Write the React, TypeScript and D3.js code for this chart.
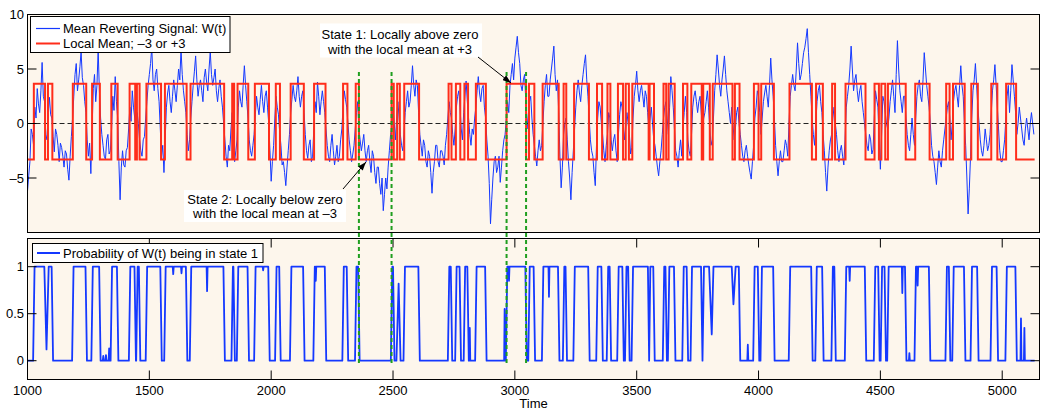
import React from "react";
import * as d3 from "d3";

// Sampled mean-reverting signal W(t), one value every 5 time units from t = 1000
const T_START = 1000;
const T_STEP = 5;
const T_END = 5133;
const X_MAX = 5153;

const signal: number[] = [
  -6.2, -4.8, -3.5, -0.5, -1.0, -2.0, 1.5, 0.5, 3.2, 1.8, 1.0, 3.0, 5.6, 2.5, 2.0, -1.0, -1.5, 1.0, 2.4, 0.8,
  0.5, -1.2, -2.6, -0.5, -1.0, -2.0, -3.5, -1.8, -2.2, -3.0, -4.0, -2.5, -2.8, -4.2, -5.2, -3.0, -1.2, 0.5, 2.5, 4.5,
  5.5, 3.0, 4.0, 5.2, 6.6, 4.2, 3.5, 2.0, 1.0, -1.5, -3.0, -1.8, -4.6, -0.5, 3.2, 4.5, 2.0, 3.5, 6.8, 3.0,
  0.5, -1.0, -2.0, -3.0, -3.3, -1.5, -1.0, -2.8, -2.5, -0.5, 2.5, 1.2, 4.3, 2.0, 0.5, -3.5, -7.0, -4.0, -2.5, -3.8,
  -4.0, -2.5, -2.2, -0.5, 1.5, 0.2, 3.0, 1.5, 0.5, -1.0, 1.0, 0.0, -1.5, -2.5, -3.0, -1.5, -1.2, 0.5, 2.0, 3.5,
  4.5, 5.5, 7.0, 4.0, 3.0, 4.5, 5.0, 3.2, 2.0, -0.5, -3.0, -2.0, -4.5, -1.5, 1.5, 2.8, 3.5, 2.0, 1.0, 2.5,
  4.0, 3.0, 2.0, 3.5, 5.0, 4.0, 6.8, 4.5, 3.0, 2.0, 1.0, -1.0, -2.5, -1.5, 0.5, 2.0, 3.5, 4.8, 6.2, 4.0,
  2.5, 3.5, 4.0, 3.0, 2.0, 4.2, 5.0, 3.8, 3.0, 5.0, 6.6, 4.5, 3.5, 4.2, 5.0, 3.0, 2.0, 3.2, 4.0, 2.5,
  1.5, 0.0, -1.5, -3.0, -4.0, -2.0, -2.5, -0.5, 1.0, -1.5, -3.5, -2.5, -1.5, 1.5, 3.0, 2.0, 1.5, 3.5, 5.3, 3.5,
  2.0, 0.5, -1.5, -2.5, -3.0, -2.0, -1.0, 0.8, 2.5, 1.5, 0.8, 2.2, 3.5, 2.0, 1.0, 2.5, 3.0, 1.5, 0.0, -2.5,
  -5.3, -3.5, -2.0, 0.5, 2.5, 1.5, 0.8, -0.8, -2.0, -3.8, -3.5, -4.5, -5.7, -4.0, -2.5, -1.0, 1.0, 2.2, 3.5, 2.5,
  2.0, 3.0, 4.3, 2.5, 1.5, 2.5, 3.0, 1.0, -1.0, -2.5, -3.2, -2.0, -1.5, -3.5, -3.0, -0.5, 2.0, 1.0, 3.8, 2.5,
  0.8, 2.0, 3.0, 2.0, 1.0, -0.5, -2.0, -3.0, -3.5, -2.0, -1.0, -2.5, -3.8, -3.0, -2.0, -3.5, -3.0, -1.5, -0.5, 1.5,
  3.0, 2.2, 1.5, 0.0, -1.5, -2.5, -3.5, -2.8, -2.0, -0.5, 1.0, 2.0, -0.5, -1.5, -2.5, -1.8, -1.0, -2.5, -3.5, -2.5,
  -2.0, -3.5, -4.5, -2.5, -3.0, -4.5, -5.5, -4.0, -4.0, -5.5, -6.5, -5.0, -8.0, -6.5, -5.0, -6.0, -4.0, -2.5, -1.0, -0.5,
  1.5, 0.0, -1.5, 0.5, 2.0, 0.5, -1.0, -2.0, -2.5, -1.0, 1.0, 2.0, 3.0, 1.5, 2.0, 3.5, 5.3, 3.5, 2.5, 4.0,
  3.5, 1.0, -1.0, -2.0, -3.0, -1.5, -2.0, -3.5, -4.0, -2.5, -3.0, -4.5, -6.4, -4.5, -3.5, -2.0, -2.0, -3.5, -4.0, -2.5,
  -2.5, -3.0, -3.8, -2.0, -1.0, 0.5, 2.0, 1.0, 0.5, -1.0, -2.0, -0.5, 1.5, 2.5, 3.0, 1.5, -0.5, -1.5, 1.0, 2.5,
  3.9, 2.0, 0.5, -1.0, -2.0, -0.5, -1.0, 0.5, 1.5, 3.0, 4.3, 2.8, 2.0, 3.2, 3.5, 1.5, 0.5, -1.5, -3.0, -5.5,
  -9.2, -7.0, -5.0, -3.5, -3.0, -4.5, -4.0, -3.0, -5.4, -4.0, -2.5, -1.5, -1.0, 0.5, 2.0, 1.0, 3.5, 4.5, 5.5, 4.0,
  6.0, 7.0, 8.0, 6.5, 5.5, 3.5, 3.0, 4.0, 4.5, 2.0, -0.5, 0.8, 2.0, 2.5, 0.5, -1.0, -2.0, -3.0, -3.9, -2.5,
  -1.5, -2.5, -2.0, 0.0, 2.0, 3.5, 4.5, 2.5, 2.5, 4.0, 5.0, 6.0, 7.1, 4.5, 3.0, 4.0, 1.0, -3.0, -5.9, -4.0,
  -1.0, 0.0, 0.5, -1.5, -3.5, -5.0, -7.0, -4.5, -2.5, -0.5, 1.5, 3.0, 4.0, 2.8, 2.0, 3.5, 4.5, 5.5, 6.3, 4.0,
  2.5, 0.5, -1.5, -2.5, -3.0, -4.5, -5.7, -2.0, 0.5, 2.0, 1.5, 0.0, -1.0, -2.5, -3.5, -2.0, -1.0, 1.0, 0.5, -1.5,
  -2.5, -1.5, -1.0, -2.5, -3.5, -1.0, 0.8, 2.0, 1.5, 0.0, -1.5, -0.5, 1.0, 0.0, -1.0, -2.8, -2.2, 0.5, 2.5, 3.5,
  4.8, 3.0, 2.0, 3.0, 3.5, 2.5, 1.5, 3.0, 2.5, 1.0, -0.5, 0.5, 1.5, 0.0, -1.5, -2.0, -3.0, -4.0, -4.8, -3.5,
  -2.5, -1.0, 0.5, 1.5, 2.0, 0.5, -1.0, 1.5, 4.3, 3.0, 1.5, -0.5, -2.5, -3.0, -4.0, -2.5, -1.5, -3.0, -0.5, 1.0,
  2.5, 1.0, -1.5, -2.5, -3.0, -1.0, 1.5, 2.5, 3.0, 2.0, 1.0, 2.0, 2.5, 1.0, -0.5, 0.5, 1.0, 2.0, 3.0, 1.5,
  -0.5, -2.0, -1.5, 0.5, 3.0, 4.5, 6.3, 5.0, 3.5, 2.5, 4.0, 5.0, 6.2, 4.5, 3.0, 2.0, 1.0, 0.0, 1.5, 0.0,
  -1.5, -0.5, 1.0, 1.5, 0.0, -1.0, -2.0, -3.0, -3.5, -2.5, -2.0, -3.0, -3.8, -4.5, -5.1, -3.5, -2.0, 0.5, 1.5, 3.0,
  2.5, 1.0, -1.0, 0.5, 2.0, 2.8, 3.5, 2.5, 1.5, 3.5, 6.0, 4.0, 2.5, 0.5, -2.0, -3.5, -4.8, -3.5, -2.5, -3.5,
  -3.5, -2.5, -1.5, -2.0, -3.0, 0.0, 2.5, 3.5, 4.5, 3.5, 3.0, 5.0, 7.4, 5.5, 4.0, 4.5, 5.5, 6.5, 7.0, 7.8,
  8.7, 6.5, 4.5, 2.5, 0.5, -1.0, -2.0, 0.0, 2.0, 3.0, 3.5, 2.0, 1.0, -1.0, -2.5, -4.5, -6.2, -4.0, -2.5, -1.5,
  -1.0, 0.5, 1.5, 0.0, -1.0, -2.5, -3.5, -2.5, -2.0, -3.0, -3.8, -1.5, 1.5, 2.5, 3.5, 5.0, 7.1, 5.0, 3.0, 4.0,
  4.5, 3.0, 2.0, 3.0, 3.5, 2.0, 1.0, 0.0, -1.0, -2.0, -2.5, -1.0, -1.5, -2.8, -2.4, 0.5, 3.0, 2.2, 1.5, -1.5,
  -4.2, -1.0, 2.5, 2.0, 1.0, 0.0, -0.5, 0.5, 2.0, 3.0, 4.0, 2.5, 1.0, 4.5, 7.6, 5.0, 3.0, 2.0, 1.0, 2.5,
  2.5, 0.5, -1.0, -2.0, -2.5, -1.0, 0.5, -1.0, -2.0, 0.5, 2.5, 3.5, 4.0, 2.5, 2.0, 4.0, 6.5, 5.0, 3.5, 2.5,
  1.5, 0.0, -2.0, -3.0, -3.5, -4.5, -5.6, -4.0, -2.5, -3.5, -4.0, -2.5, -1.5, -0.5, 0.5, 1.5, 2.0, 0.5, -1.5, 0.0,
  2.0, 3.0, 3.5, 2.5, 1.5, 3.5, 5.3, 3.5, 2.5, 0.0, -2.0, -5.0, -8.3, -6.0, -3.0, 0.5, 3.0, 4.0, 5.5, 3.5,
  1.5, 0.0, -1.5, -2.5, -3.0, -2.0, -0.5, -1.5, -2.5, -2.0, -1.0, 1.0, 3.0, 4.0, 5.4, 3.5, 1.5, -0.5, -2.5, -3.5,
  -3.5, -2.5, -1.5, 0.5, 2.5, 3.5, 1.0, 3.0, 5.4, 4.0, 2.5, 1.0, -1.0, 0.0, 1.5, 0.5, -0.5, -1.5, -2.0, -0.5,
  0.5, -0.5, -1.5, 0.0, 1.0, 0.0, -1.0,
];

// Times at which the local mean switches state (starts in state 2, the low mean)
const initialState = 0;
const switchTimes: number[] = [
  1026, 1072, 1084, 1102, 1186, 1241, 1265, 1297, 1344, 1370,
  1419, 1442, 1449, 1460, 1488, 1548, 1564, 1653, 1669, 1807,
  1840, 1848, 1862, 1906, 1933, 1991, 2019, 2036, 2080, 2134,
  2176, 2223, 2295, 2313, 2347, 2360, 2494, 2503, 2517, 2528,
  2546, 2607, 2728, 2740, 2758, 2776, 2793, 2808, 2840, 2881,
  2966, 3046, 3058, 3080, 3114, 3180, 3200, 3211, 3243, 3304,
  3337, 3358, 3380, 3392, 3423, 3444, 3455, 3468, 3482, 3549,
  3553, 3571, 3610, 3621, 3631, 3656, 3690, 3708, 3724, 3767,
  3773, 3800, 3812, 3893, 3903, 3922, 3981, 4000, 4011, 4063,
  4127, 4219, 4236, 4264, 4302, 4314, 4357, 4439, 4476, 4494,
  4504, 4520, 4531, 4604, 4643, 4702, 4770, 4784, 4798, 4846,
  4873, 4900, 4955, 4980, 5016, 5057,
];
const meanLevels = [-3.3, 3.65];

// Partial probability excursions [time, probability]
const probMarks: [number, number][] = [
  [1078, 0.12], [1311, 0.05], [1322, 0.06], [1335, 0.13], [1598, 0.92],
  [1632, 0.93], [1737, 0.74], [1967, 0.96], [2183, 0.85], [2523, 0.82],
  [2815, 0.35], [2958, 0.55], [2976, 0.85], [3140, 0.68], [3808, 0.28],
  [3897, 0.6], [3956, 0.17], [4374, 0.85], [4590, 0.72], [4619, 0.08],
  [4653, 0.8], [5077, 0.45], [5091, 0.35],
];

const transitionTimes = [2360, 2494, 2966, 3046];
const timeTicks = [1000, 1500, 2000, 2500, 3000, 3500, 4000, 4500, 5000];
const signalTicks = [-5, 0, 5, 10];
const probTicks = [0, 0.5, 1];

const FONT = "'Liberation Sans', Arial, Helvetica, sans-serif";
const BG = "#fdf6ec";
const BLUE = "#1438ff";
const RED = "#ff2d1a";
const GREEN = "#1f9e1f";

type Seg = { a: number; b: number; s: number };

function buildSegments(): Seg[] {
  const segs: Seg[] = [];
  let a = T_START;
  let s = initialState;
  for (const t of switchTimes) {
    segs.push({ a, b: t, s });
    a = t;
    s = 1 - s;
  }
  segs.push({ a, b: T_END, s });
  return segs;
}

function fmtSignal(d: number) {
  return d < 0 ? "\u2013" + Math.abs(d) : String(d);
}

export default function App() {
  const L = 27.5;
  const R = 1039.5;
  const topY0 = 14.5;
  const topY1 = 232.5;
  const botY0 = 238.5;
  const botY1 = 379.5;

  const x = d3.scaleLinear().domain([T_START, X_MAX]).range([L, R]);
  const yTop = d3.scaleLinear().domain([-10, 10]).range([topY1, topY0]);
  const yBot = d3.scaleLinear().domain([-0.2, 1.3]).range([botY1, botY0]);

  const segs = buildSegments();

  const signalPts: [number, number][] = signal.map((v, i) => [T_START + i * T_STEP, v]);
  const signalLine = d3
    .line<[number, number]>()
    .x((d) => x(d[0]))
    .y((d) => yTop(d[1]));

  const meanPts: [number, number][] = segs.map((g) => [g.a, meanLevels[g.s]]);
  meanPts.push([T_END, meanLevels[segs[segs.length - 1].s]]);
  const meanLine = d3
    .line<[number, number]>()
    .x((d) => x(d[0]))
    .y((d) => yTop(d[1]))
    .curve(d3.curveStepAfter);

  // Probability of state 1: plateaus on each state segment plus the partial excursions
  const probPts: [number, number][] = [];
  segs.forEach((g, i) => {
    const inside = probMarks.filter((m) => m[0] > g.a && m[0] < g.b);
    const len = g.b - g.a;
    const start = i === 0 ? g.a : g.a + 3;
    const end = i === segs.length - 1 ? g.b : g.b - 3;
    if (len < 14 && inside.length) {
      inside.forEach((m) => probPts.push([m[0], m[1]]));
    } else if (len < 6) {
      probPts.push([(g.a + g.b) / 2, g.s]);
    } else {
      probPts.push([start, g.s]);
      inside.forEach((m) => {
        probPts.push([m[0] - 2, g.s]);
        probPts.push([m[0], m[1]]);
        probPts.push([m[0] + 2, g.s]);
      });
      probPts.push([end, g.s]);
    }
  });
  const probLine = d3
    .line<[number, number]>()
    .x((d) => x(d[0]))
    .y((d) => yBot(d[1]));

  const tick = 9;

  return (
    <svg
      width={1041}
      height={409}
      viewBox="0 0 1041 409"
      style={{ position: "absolute", left: 0, top: 0, background: "#ffffff" }}
      fontFamily={FONT}
    >
      <defs>
        <clipPath id="clipTop">
          <rect x={L} y={topY0} width={R - L} height={topY1 - topY0} />
        </clipPath>
        <clipPath id="clipBot">
          <rect x={L} y={botY0} width={R - L} height={botY1 - botY0} />
        </clipPath>
        <marker
          id="arrowHead"
          viewBox="0 0 10 7"
          refX={10}
          refY={3.5}
          markerWidth={9}
          markerHeight={6}
          markerUnits="userSpaceOnUse"
          orient="auto"
        >
          <path d="M0,0 L10,3.5 L0,7 z" fill="#000" />
        </marker>
      </defs>

      {/* upper panel: signal and local mean */}
      <rect x={L} y={topY0} width={R - L} height={topY1 - topY0} fill={BG} />
      <g clipPath="url(#clipTop)">
        <path d={signalLine(signalPts) || ""} fill="none" stroke={BLUE} strokeWidth={1} strokeLinejoin="round" />
        <line x1={L} x2={R} y1={yTop(0)} y2={yTop(0)} stroke="#222" strokeWidth={1} strokeDasharray="5,3" />
        <path d={meanLine(meanPts) || ""} fill="none" stroke={RED} strokeWidth={2} />
      </g>
      <rect x={L} y={topY0} width={R - L} height={topY1 - topY0} fill="none" stroke="#000" strokeWidth={1} />
      {signalTicks.map((t) => (
        <g key={"st" + t}>
          <line x1={L} x2={L + tick} y1={yTop(t)} y2={yTop(t)} stroke="#000" />
          <line x1={R} x2={R - tick} y1={yTop(t)} y2={yTop(t)} stroke="#000" />
          <text x={24} y={yTop(t)} fontSize={13} textAnchor="end" dominantBaseline="central">
            {fmtSignal(t)}
          </text>
        </g>
      ))}

      {/* lower panel: probability of being in state 1 */}
      <rect x={L} y={botY0} width={R - L} height={botY1 - botY0} fill={BG} />
      <g clipPath="url(#clipBot)">
        <path d={probLine(probPts) || ""} fill="none" stroke={BLUE} strokeWidth={1.8} strokeLinejoin="round" />
      </g>
      <rect x={L} y={botY0} width={R - L} height={botY1 - botY0} fill="none" stroke="#000" strokeWidth={1} />
      {probTicks.map((t) => (
        <g key={"pt" + t}>
          <line x1={L} x2={L + tick} y1={yBot(t)} y2={yBot(t)} stroke="#000" />
          <line x1={R} x2={R - tick} y1={yBot(t)} y2={yBot(t)} stroke="#000" />
          <text x={24} y={yBot(t)} fontSize={13} textAnchor="end" dominantBaseline="central">
            {String(t)}
          </text>
        </g>
      ))}
      {timeTicks.map((t) => (
        <g key={"tt" + t}>
          <line x1={x(t)} x2={x(t)} y1={botY1} y2={botY1 - tick} stroke="#000" />
          <line x1={x(t)} x2={x(t)} y1={botY0} y2={botY0 + tick} stroke="#000" />
          <text x={x(t)} y={395} fontSize={13} textAnchor="middle">
            {String(t)}
          </text>
        </g>
      ))}
      <text x={(L + R) / 2} y={407.5} fontSize={13} textAnchor="middle">
        Time
      </text>

      {/* state transition markers spanning both panels */}
      {transitionTimes.map((t) => (
        <line
          key={"tr" + t}
          x1={x(t)}
          x2={x(t)}
          y1={72}
          y2={366}
          stroke={GREEN}
          strokeWidth={2}
          strokeDasharray="4,3"
        />
      ))}

      {/* legends */}
      <rect x={30.5} y={16.5} width={199.5} height={36} fill="#fff" stroke="#000" strokeWidth={1} />
      <line x1={36} x2={60} y1={28.5} y2={28.5} stroke={BLUE} strokeWidth={1.2} />
      <text x={63} y={28.5} fontSize={13} dominantBaseline="central">
        Mean Reverting Signal: W(t)
      </text>
      <line x1={36} x2={60} y1={43.5} y2={43.5} stroke={RED} strokeWidth={2} />
      <text x={63} y={43.5} fontSize={13} dominantBaseline="central">
        Local Mean; {"\u2013"}3 or +3
      </text>

      <rect x={32.5} y={243.5} width={230.5} height={19} fill="#fff" stroke="#000" strokeWidth={1} />
      <line x1={37} x2={60} y1={253} y2={253} stroke={BLUE} strokeWidth={2} />
      <text x={63} y={253} fontSize={13} dominantBaseline="central">
        Probability of W(t) being in state 1
      </text>

      {/* annotations */}
      <rect x={320} y={23.5} width={162} height={34} fill="#fff" />
      <text x={400} y={34.5} fontSize={13} textAnchor="middle" dominantBaseline="central">
        State 1: Locally above zero
      </text>
      <text x={400} y={49.5} fontSize={13} textAnchor="middle" dominantBaseline="central">
        with the local mean at +3
      </text>
      <line x1={478} y1={57} x2={511} y2={83} stroke="#000" strokeWidth={1} markerEnd="url(#arrowHead)" />

      <rect x={184} y={190} width={162} height={32} fill="#fff" />
      <text x={265} y={199.5} fontSize={13} textAnchor="middle" dominantBaseline="central">
        State 2: Locally below zero
      </text>
      <text x={265} y={213.5} fontSize={13} textAnchor="middle" dominantBaseline="central">
        with the local mean at {"\u2013"}3
      </text>
      <line x1={343} y1={189} x2={366} y2={162} stroke="#000" strokeWidth={1} markerEnd="url(#arrowHead)" />
    </svg>
  );
}
